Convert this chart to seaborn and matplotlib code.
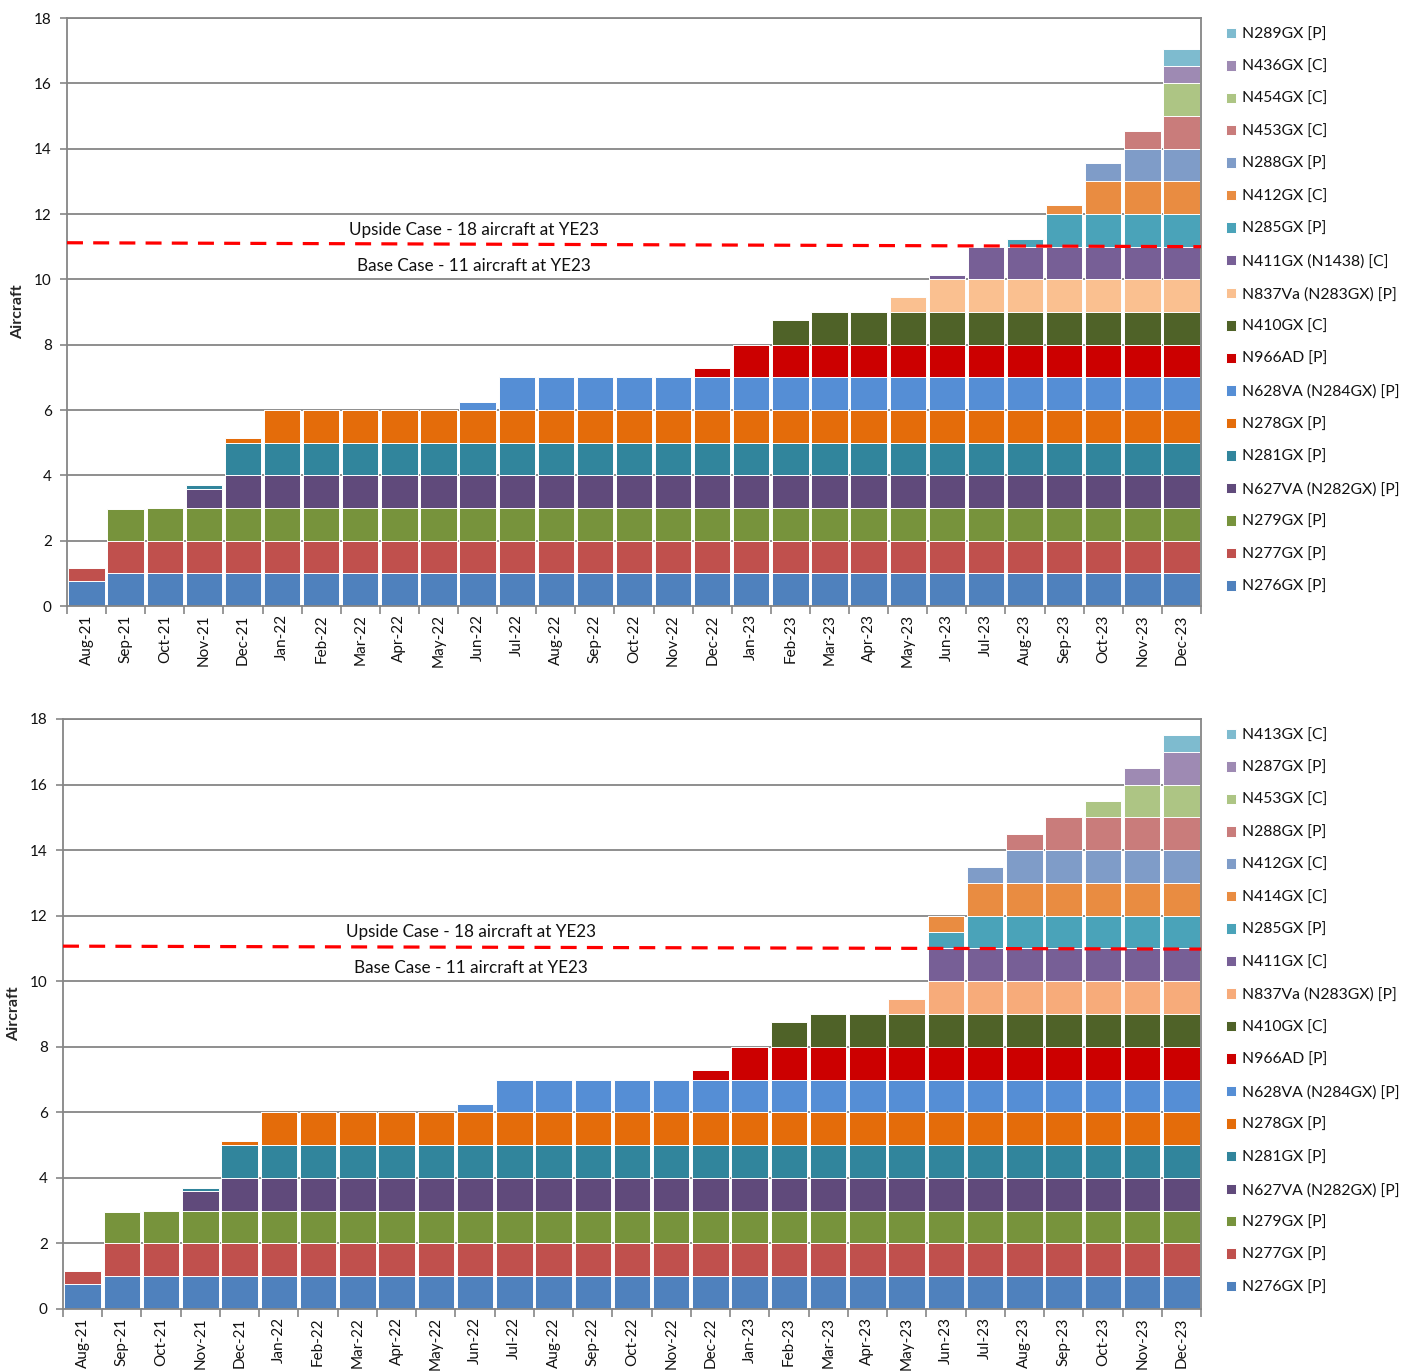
import matplotlib
matplotlib.use("Agg")
import matplotlib.pyplot as plt
import seaborn as sns
import numpy as np
import pandas as pd
from matplotlib.ticker import FixedLocator

sns.set_theme(style="white")
plt.rcParams['font.family'] = ['Lato', 'DejaVu Sans']

months = ["Aug-21", "Sep-21", "Oct-21", "Nov-21", "Dec-21",
          "Jan-22", "Feb-22", "Mar-22", "Apr-22", "May-22", "Jun-22", "Jul-22",
          "Aug-22", "Sep-22", "Oct-22", "Nov-22", "Dec-22",
          "Jan-23", "Feb-23", "Mar-23", "Apr-23", "May-23", "Jun-23", "Jul-23",
          "Aug-23", "Sep-23", "Oct-23", "Nov-23", "Dec-23"]

#            Aug21-Dec21          Jan22 ... Dec22                      Jan23 ... Dec23
n276gx = [0.77, 1, 1, 1, 1,    1, 1, 1, 1, 1, 1, 1, 1, 1, 1, 1, 1,    1, 1, 1, 1, 1, 1, 1, 1, 1, 1, 1, 1]
n277gx = [0.40, 1, 1, 1, 1,    1, 1, 1, 1, 1, 1, 1, 1, 1, 1, 1, 1,    1, 1, 1, 1, 1, 1, 1, 1, 1, 1, 1, 1]
n279gx = [0, 0.97, 1, 1, 1,    1, 1, 1, 1, 1, 1, 1, 1, 1, 1, 1, 1,    1, 1, 1, 1, 1, 1, 1, 1, 1, 1, 1, 1]
n627va = [0, 0, 0, 0.59, 1,    1, 1, 1, 1, 1, 1, 1, 1, 1, 1, 1, 1,    1, 1, 1, 1, 1, 1, 1, 1, 1, 1, 1, 1]
n281gx = [0, 0, 0, 0.10, 1,    1, 1, 1, 1, 1, 1, 1, 1, 1, 1, 1, 1,    1, 1, 1, 1, 1, 1, 1, 1, 1, 1, 1, 1]
n278gx = [0, 0, 0, 0, 0.13,    1, 1, 1, 1, 1, 1, 1, 1, 1, 1, 1, 1,    1, 1, 1, 1, 1, 1, 1, 1, 1, 1, 1, 1]
n628va = [0, 0, 0, 0, 0,       0, 0, 0, 0, 0, 0.25, 1, 1, 1, 1, 1, 1, 1, 1, 1, 1, 1, 1, 1, 1, 1, 1, 1, 1]
n966ad = [0, 0, 0, 0, 0,       0, 0, 0, 0, 0, 0, 0, 0, 0, 0, 0, 0.30, 1, 1, 1, 1, 1, 1, 1, 1, 1, 1, 1, 1]
n410gx = [0, 0, 0, 0, 0,       0, 0, 0, 0, 0, 0, 0, 0, 0, 0, 0, 0,    0, 0.77, 1, 1, 1, 1, 1, 1, 1, 1, 1, 1]
n837va_top = [0, 0, 0, 0, 0,   0, 0, 0, 0, 0, 0, 0, 0, 0, 0, 0, 0,    0, 0, 0, 0, 0.45, 1, 1, 1, 1, 1, 1, 1]

# upper chart only
t_n411gx = [0, 0, 0, 0, 0,     0, 0, 0, 0, 0, 0, 0, 0, 0, 0, 0, 0,    0, 0, 0, 0, 0, 0.12, 1, 1, 1, 1, 1, 1]
t_n285gx = [0, 0, 0, 0, 0,     0, 0, 0, 0, 0, 0, 0, 0, 0, 0, 0, 0,    0, 0, 0, 0, 0, 0, 0, 0.22, 1, 1, 1, 1]
t_n412gx = [0, 0, 0, 0, 0,     0, 0, 0, 0, 0, 0, 0, 0, 0, 0, 0, 0,    0, 0, 0, 0, 0, 0, 0, 0, 0.28, 1, 1, 1]
t_n288gx = [0, 0, 0, 0, 0,     0, 0, 0, 0, 0, 0, 0, 0, 0, 0, 0, 0,    0, 0, 0, 0, 0, 0, 0, 0, 0, 0.55, 1, 1]
t_n453gx = [0, 0, 0, 0, 0,     0, 0, 0, 0, 0, 0, 0, 0, 0, 0, 0, 0,    0, 0, 0, 0, 0, 0, 0, 0, 0, 0, 0.55, 1]
t_n454gx = [0, 0, 0, 0, 0,     0, 0, 0, 0, 0, 0, 0, 0, 0, 0, 0, 0,    0, 0, 0, 0, 0, 0, 0, 0, 0, 0, 0, 1]
t_n436gx = [0, 0, 0, 0, 0,     0, 0, 0, 0, 0, 0, 0, 0, 0, 0, 0, 0,    0, 0, 0, 0, 0, 0, 0, 0, 0, 0, 0, 0.52]
t_n289gx = [0, 0, 0, 0, 0,     0, 0, 0, 0, 0, 0, 0, 0, 0, 0, 0, 0,    0, 0, 0, 0, 0, 0, 0, 0, 0, 0, 0, 0.53]

# lower chart only
b_n411gx = [0, 0, 0, 0, 0,     0, 0, 0, 0, 0, 0, 0, 0, 0, 0, 0, 0,    0, 0, 0, 0, 0, 1, 1, 1, 1, 1, 1, 1]
b_n285gx = [0, 0, 0, 0, 0,     0, 0, 0, 0, 0, 0, 0, 0, 0, 0, 0, 0,    0, 0, 0, 0, 0, 0.5, 1, 1, 1, 1, 1, 1]
b_n414gx = [0, 0, 0, 0, 0,     0, 0, 0, 0, 0, 0, 0, 0, 0, 0, 0, 0,    0, 0, 0, 0, 0, 0.5, 1, 1, 1, 1, 1, 1]
b_n412gx = [0, 0, 0, 0, 0,     0, 0, 0, 0, 0, 0, 0, 0, 0, 0, 0, 0,    0, 0, 0, 0, 0, 0, 0.5, 1, 1, 1, 1, 1]
b_n288gx = [0, 0, 0, 0, 0,     0, 0, 0, 0, 0, 0, 0, 0, 0, 0, 0, 0,    0, 0, 0, 0, 0, 0, 0, 0.5, 1, 1, 1, 1]
b_n453gx = [0, 0, 0, 0, 0,     0, 0, 0, 0, 0, 0, 0, 0, 0, 0, 0, 0,    0, 0, 0, 0, 0, 0, 0, 0, 0, 0.5, 1, 1]
b_n287gx = [0, 0, 0, 0, 0,     0, 0, 0, 0, 0, 0, 0, 0, 0, 0, 0, 0,    0, 0, 0, 0, 0, 0, 0, 0, 0, 0, 0.5, 1]
b_n413gx = [0, 0, 0, 0, 0,     0, 0, 0, 0, 0, 0, 0, 0, 0, 0, 0, 0,    0, 0, 0, 0, 0, 0, 0, 0, 0, 0, 0, 0.5]

# reference threshold line (start / end values)
threshold_top = [11.12, 11.00]
threshold_bottom = [11.07, 10.98]

upside_text = "Upside Case - 18 aircraft at YE23"
base_text = "Base Case - 11 aircraft at YE23"

common = [
    ("N276GX [P]", n276gx, "#4F81BD"),
    ("N277GX [P]", n277gx, "#C0504D"),
    ("N279GX [P]", n279gx, "#77933C"),
    ("N627VA (N282GX) [P]", n627va, "#604A7B"),
    ("N281GX [P]", n281gx, "#31859C"),
    ("N278GX [P]", n278gx, "#E46C0A"),
    ("N628VA (N284GX) [P]", n628va, "#558ED5"),
    ("N966AD [P]", n966ad, "#CC0000"),
    ("N410GX [C]", n410gx, "#4F6228"),
]

top_series = common + [
    ("N837Va (N283GX) [P]", n837va_top, "#FAC090"),
    ("N411GX (N1438) [C]", t_n411gx, "#775F96"),
    ("N285GX [P]", t_n285gx, "#4AA3B9"),
    ("N412GX [C]", t_n412gx, "#E98C41"),
    ("N288GX [P]", t_n288gx, "#7F9CC8"),
    ("N453GX [C]", t_n453gx, "#C97C7B"),
    ("N454GX [C]", t_n454gx, "#ADC584"),
    ("N436GX [C]", t_n436gx, "#9E8AB3"),
    ("N289GX [P]", t_n289gx, "#7EBBCF"),
]

bottom_series = common + [
    ("N837Va (N283GX) [P]", n837va_top, "#F7AB7A"),
    ("N411GX [C]", b_n411gx, "#775F96"),
    ("N285GX [P]", b_n285gx, "#4AA3B9"),
    ("N414GX [C]", b_n414gx, "#E98C41"),
    ("N412GX [C]", b_n412gx, "#7F9CC8"),
    ("N288GX [P]", b_n288gx, "#C97C7B"),
    ("N453GX [C]", b_n453gx, "#ADC584"),
    ("N287GX [P]", b_n287gx, "#9E8AB3"),
    ("N413GX [C]", b_n413gx, "#7EBBCF"),
]

W, H = 1414, 1372
fig = plt.figure(figsize=(W / 100, H / 100), dpi=100)

ax_top = fig.add_axes([67 / W, 1 - 606 / H, (1201 - 67) / W, (606 - 18) / H])
ax_bot = fig.add_axes([63 / W, 1 - 1309 / H, (1201 - 63) / W, (1309 - 719) / H])

GRAY = "#868686"


def draw(ax, series, thresh):
    vals = np.array([s[1] for s in series], dtype=float)
    cum = np.cumsum(vals, axis=0)
    # draw from the top of the stack down so lower segments overlay
    for i in range(len(series) - 1, -1, -1):
        name, _, color = series[i]
        df = pd.DataFrame({"month": months, "value": cum[i]})
        sns.barplot(data=df, x="month", y="value", order=months, color=color,
                    saturation=1, width=0.93, edgecolor="white", linewidth=0.7,
                    errorbar=None, ax=ax, label=name)
    ax.set_xlim(-0.5, len(months) - 0.5)
    ax.set_ylim(0, 18)
    ax.set_yticks(np.arange(0, 19, 2))
    ax.yaxis.grid(True, color=GRAY, linewidth=1.3)
    ax.xaxis.grid(False)
    ax.set_axisbelow(True)
    for sp in ax.spines.values():
        sp.set_color(GRAY)
        sp.set_linewidth(1.3)
        sp.set_visible(True)
    ax.set_xlabel("")
    ax.set_ylabel("Aircraft", fontsize=11.5, fontweight="bold", labelpad=4)
    ax.tick_params(axis="x", which="major", length=0, labelsize=11, rotation=90,
                   pad=6, labelcolor="#111111")
    ax.xaxis.set_minor_locator(FixedLocator(np.arange(-0.5, len(months), 1)))
    ax.tick_params(axis="x", which="minor", length=6, color=GRAY, width=1.2,
                   bottom=True)
    ax.tick_params(axis="y", which="major", length=5, color=GRAY, width=1.2,
                   left=True, labelsize=11, pad=6, labelcolor="#111111")
    ax.plot([-0.5, len(months) - 0.5], thresh, color="#FF0000", linewidth=2.3,
            dashes=(5, 3.2), zorder=5)
    ax.text(9.9, 11.5, upside_text, ha="center", va="center", fontsize=12.3,
            color="#111111", zorder=6)
    ax.text(9.9, 10.4, base_text, ha="center", va="center", fontsize=12.3,
            color="#111111", zorder=6)
    handles, labels = ax.get_legend_handles_labels()
    leg = ax.legend(handles, labels, loc="upper left", bbox_to_anchor=(1.022, 0.984),
                    frameon=False, fontsize=11.3, handlelength=0.65, handleheight=0.65,
                    handletextpad=0.35, labelspacing=1.17, borderpad=0,
                    borderaxespad=0)
    for t in leg.get_texts():
        t.set_color("#111111")


draw(ax_top, top_series, threshold_top)
draw(ax_bot, bottom_series, threshold_bottom)

ax_top.yaxis.set_label_coords(-0.037, 0.5)
ax_bot.yaxis.set_label_coords(-0.037, 0.5)

fig.savefig("out.png", dpi=100, facecolor="white")
